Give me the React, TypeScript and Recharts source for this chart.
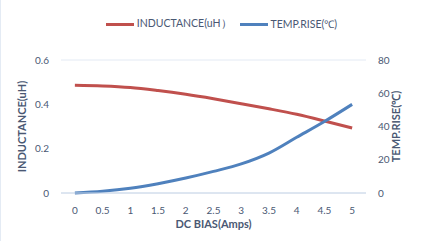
import { LineChart, Line, XAxis, YAxis, CartesianGrid, Legend } from 'recharts';

const currents = [0, 0.5, 1, 1.5, 2, 2.5, 3, 3.5, 4, 4.5, 5];
const inductance = [0.486, 0.483, 0.476, 0.462, 0.445, 0.425, 0.403, 0.38, 0.355, 0.325, 0.293];
const tempRise = [0, 1, 2.8, 5.6, 9, 13, 17.5, 24, 33.5, 43, 53.3];
const leftTicks = [0, 0.2, 0.4, 0.6];
const rightTicks = [0, 20, 40, 60, 80];
const bandEdges = [-0.25, 0.25, 0.75, 1.25, 1.75, 2.25, 2.75, 3.25, 3.75, 4.25, 4.75, 5.25];

const textColor = '#4a5873';
const font = 'Lato, "Open Sans", sans-serif';

const data = currents.map((c, i) => ({
    amps: c,
    inductance: inductance[i],
    temp: tempRise[i]
}));

function LegendContent() {
    const items = [
        { label: 'INDUCTANCE(uH）', color: '#c0504d' },
        { label: 'TEMP.RISE(℃)', color: '#4f81bd' }
    ];
    return (
        <div style={{ display: 'flex', justifyContent: 'center', alignItems: 'center', gap: 8, fontFamily: font, fontSize: 10.5, color: textColor, paddingLeft: 4 }}>
            {items.map(item => (
                <div key={item.label} style={{ display: 'flex', alignItems: 'center' }}>
                    <span style={{ display: 'inline-block', width: 28, height: 3, background: item.color, marginRight: 3 }} />
                    <span>{item.label}</span>
                </div>
            ))}
        </div>
    );
}

export default function App() {
    return (
        <div style={{ position: 'absolute', left: 0, top: 0, width: 438, height: 241, background: 'white', borderLeft: '1px solid #e4ebf4', boxSizing: 'border-box' }}>
            <LineChart width={437} height={241} data={data} margin={{ top: 46, right: 0, bottom: 0, left: 0 }}>
                <CartesianGrid vertical={false} stroke="#e3eaf4" />
                <XAxis
                    xAxisId="main"
                    dataKey="amps"
                    type="number"
                    domain={[-0.25, 5.25]}
                    ticks={currents}
                    tickLine={false}
                    axisLine={{ stroke: '#c9d6e8' }}
                    tick={{ fill: textColor, fontSize: 10, fontFamily: font }}
                    tickMargin={8}
                    height={48}
                    label={{ value: 'DC BIAS(Amps)', position: 'insideBottom', offset: 13, fill: textColor, fontSize: 11, fontWeight: 700, fontFamily: font }}
                />
                <XAxis
                    xAxisId="edges"
                    dataKey="amps"
                    type="number"
                    domain={[-0.25, 5.25]}
                    ticks={bandEdges}
                    tick={false}
                    tickSize={4}
                    tickLine={{ stroke: '#c9d6e8' }}
                    axisLine={false}
                    height={0}
                />
                <YAxis
                    yAxisId="left"
                    domain={[0, 0.6]}
                    ticks={leftTicks}
                    axisLine={false}
                    tickLine={false}
                    width={60}
                    tickMargin={6}
                    tickFormatter={(v: number) => String(v)}
                    tick={{ fill: textColor, fontSize: 10, fontFamily: font }}
                    label={{ value: 'INDUCTANCE(uH)', angle: -90, position: 'insideLeft', offset: 21, fill: textColor, fontSize: 11, fontWeight: 700, fontFamily: font, style: { textAnchor: 'middle' } }}
                />
                <YAxis
                    yAxisId="right"
                    orientation="right"
                    domain={[0, 80]}
                    ticks={rightTicks}
                    axisLine={false}
                    tickLine={false}
                    width={72}
                    tickMargin={6}
                    tick={{ fill: textColor, fontSize: 10, fontFamily: font }}
                    label={{ value: 'TEMP.RISE(℃)', angle: -90, position: 'insideRight', offset: 42, fill: textColor, fontSize: 11, fontWeight: 700, fontFamily: font, style: { textAnchor: 'middle' } }}
                />
                <Legend verticalAlign="top" content={<LegendContent />} wrapperStyle={{ top: 17 }} />
                <Line xAxisId="main" yAxisId="left" type="monotone" dataKey="inductance" stroke="#c0504d" strokeWidth={3} dot={false} isAnimationActive={false} />
                <Line xAxisId="main" yAxisId="right" type="monotone" dataKey="temp" stroke="#4f81bd" strokeWidth={3} dot={false} isAnimationActive={false} />
            </LineChart>
        </div>
    );
}
